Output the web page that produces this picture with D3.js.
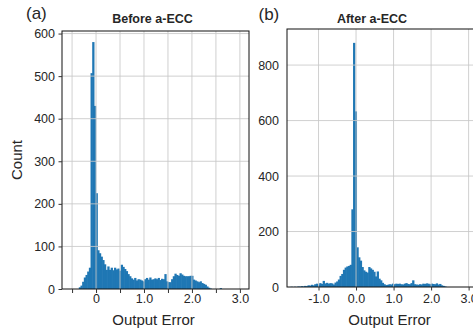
<!DOCTYPE html>
<html>
<head>
<meta charset="utf-8">
<script src="https://cdn.jsdelivr.net/npm/d3@7"></script>
<style>
  html, body { margin: 0; padding: 0; background: #fff; }
  svg { display: block; font-family: "Liberation Sans", Arial, sans-serif; }
</style>
</head>
<body>
<svg id="chart" width="473" height="332"></svg>
<script>
// Histogram of output error before a-ECC: bins of equal width starting at beforeStart
const beforeStart = -0.36;
const beforeWidth = 0.035;
const beforeCounts = [
  4, 8, 17, 27, 33, 41, 50, 507, 580, 430,
  225, 91, 84, 76, 68, 58, 45, 53, 45, 50,
  44, 50, 46, 48, 43, 57, 52, 47, 42, 35,
  30, 25, 22, 26, 20, 23, 22, 20, 18, 23,
  26, 22, 27, 22, 23, 25, 23, 26, 21, 24,
  23, 35, 18, 16, 16, 23, 30, 36, 33, 31,
  37, 34, 31, 30, 30, 30, 31, 31, 22, 20,
  18, 16, 18, 14, 12, 10, 6, 3, 1, 0,
  0, 0, 0, 0, 2
];

// Histogram of output error after a-ECC
const afterStart = -1.745;
const afterWidth = 0.045;
const afterCounts = [
  1, 0, 1, 0, 2, 1, 3, 2, 4, 3,
  6, 5, 8, 6, 10, 12, 9, 14, 11, 22,
  13, 15, 12, 14, 13, 9, 16, 20, 27, 40,
  47, 62, 70, 74, 76, 80, 280, 880, 633, 143,
  107, 95, 72, 60, 55, 52, 72, 67, 62, 55,
  38, 56, 30, 24, 15, 10, 7, 8, 10, 9,
  12, 10, 12, 11, 12, 10, 9, 12, 14, 11,
  10, 14, 24, 10, 9, 8, 10, 9, 12, 11,
  13, 12, 10, 12, 11, 10, 13, 9, 11, 6,
  4, 2
];

// Axis settings
const beforeXDomain = [-0.71, 3.19];
const beforeYDomain = [0, 606];
const beforeXTicks = [-0.5, 0, 0.5, 1, 1.5, 2, 2.5, 3];
const beforeXLabels = ["", "0", "", "1.0", "", "2.0", "", "3.0"];
const beforeYTicks = [0, 100, 200, 300, 400, 500, 600];

const afterXDomain = [-1.84, 3.17];
const afterYDomain = [0, 930];
const afterXTicks = [-1, 0, 1, 2, 3];
const afterXLabels = ["-1.0", "0.0", "1.0", "2.0", "3.0"];
const afterYTicks = [0, 200, 400, 600, 800];

const BAR = "#1f77b4";
const GRID = "#c8c8c8";
const INK = "#262626";

const svg = d3.select("#chart");

function panel(cfg) {
  const x = d3.scaleLinear().domain(cfg.xDomain).range([cfg.left, cfg.right]);
  const y = d3.scaleLinear().domain(cfg.yDomain).range([cfg.bottom, cfg.top]);
  const g = svg.append("g");

  // clip region for the plot
  const clipId = "clip-" + cfg.id;
  svg.append("clipPath").attr("id", clipId)
    .append("rect")
    .attr("x", cfg.left).attr("y", cfg.top)
    .attr("width", cfg.right - cfg.left).attr("height", cfg.bottom - cfg.top);

  // histogram bars (slightly widened so neighbouring bins join without seams)
  const bins = cfg.counts.map((c, i) => ({
    x0: cfg.start + i * cfg.width,
    x1: cfg.start + (i + 1) * cfg.width,
    count: c
  })).filter(b => b.count > 0);
  g.append("g").attr("clip-path", `url(#${clipId})`)
    .selectAll("rect").data(bins).join("rect")
    .attr("x", d => x(d.x0))
    .attr("width", d => x(d.x1) - x(d.x0) + 0.6)
    .attr("y", d => y(d.count))
    .attr("height", d => y(0) - y(d.count))
    .attr("fill", BAR);

  // grid lines, drawn over the bars
  const grid = g.append("g").attr("clip-path", `url(#${clipId})`);
  grid.selectAll("line.gx").data(cfg.gridX).join("line")
    .attr("x1", d => x(d)).attr("x2", d => x(d))
    .attr("y1", cfg.top).attr("y2", cfg.bottom)
    .attr("stroke", GRID).attr("stroke-width", 1).attr("stroke-opacity", 0.85);
  grid.selectAll("line.gy").data(cfg.yTicks.filter(d => d > 0)).join("line")
    .attr("x1", cfg.left).attr("x2", cfg.right)
    .attr("y1", d => y(d)).attr("y2", d => y(d))
    .attr("stroke", GRID).attr("stroke-width", 1).attr("stroke-opacity", 0.85);

  // frame
  g.append("rect")
    .attr("x", cfg.left).attr("y", cfg.top)
    .attr("width", cfg.right - cfg.left).attr("height", cfg.bottom - cfg.top)
    .attr("fill", "none").attr("stroke", "#111").attr("stroke-width", 1);

  // x axis
  const xAxis = d3.axisBottom(x).tickValues(cfg.xTicks)
    .tickFormat((d, i) => cfg.xLabels[i]).tickSize(cfg.xTickSize).tickPadding(0);
  const gx = g.append("g").attr("transform", `translate(0,${cfg.bottom})`).call(xAxis);
  gx.select(".domain").remove();
  gx.selectAll(".tick line").attr("stroke", "#333");
  gx.selectAll(".tick text")
    .attr("y", cfg.xLabelBaseline - cfg.bottom).attr("dy", null)
    .attr("fill", INK).style("font-size", "12.5px");

  // y axis
  const yAxis = d3.axisLeft(y).tickValues(cfg.yTicks)
    .tickFormat(d3.format("d")).tickSize(cfg.yTickSize).tickPadding(cfg.yPad);
  const gy = g.append("g").attr("transform", `translate(${cfg.left},0)`).call(yAxis);
  gy.select(".domain").remove();
  gy.selectAll(".tick line").attr("stroke", "#333");
  gy.selectAll(".tick text").attr("fill", INK).style("font-size", "12.5px");

  // title, panel tag, x label
  svg.append("text").attr("x", cfg.titleX).attr("y", cfg.titleY)
    .attr("text-anchor", "middle").attr("font-weight", "bold")
    .style("font-size", "12.5px").attr("fill", INK).text(cfg.title);
  svg.append("text").attr("x", cfg.tagX).attr("y", cfg.tagY)
    .style("font-size", "17px").attr("fill", INK).text(cfg.tag);
  svg.append("text").attr("x", cfg.xLabelX).attr("y", 325)
    .attr("text-anchor", "middle").style("font-size", "15px")
    .attr("fill", INK).text("Output Error");
}

panel({
  id: "a", left: 62, right: 249, top: 31, bottom: 289,
  xDomain: beforeXDomain, yDomain: beforeYDomain,
  start: beforeStart, width: beforeWidth, counts: beforeCounts,
  xTicks: beforeXTicks, xLabels: beforeXLabels, gridX: beforeXTicks,
  yTicks: beforeYTicks, xTickSize: 4, yTickSize: 3.5, yPad: 3.5,
  xLabelBaseline: 303,
  title: "Before a-ECC", titleX: 152.5, titleY: 23,
  tag: "(a)", tagX: 26, tagY: 18.5, xLabelX: 153.5
});

panel({
  id: "b", left: 287, right: 475, top: 29, bottom: 287,
  xDomain: afterXDomain, yDomain: afterYDomain,
  start: afterStart, width: afterWidth, counts: afterCounts,
  xTicks: afterXTicks, xLabels: afterXLabels, gridX: afterXTicks,
  yTicks: afterYTicks, xTickSize: 3.5, yTickSize: 0, yPad: 8,
  xLabelBaseline: 303,
  title: "After a-ECC", titleX: 372, titleY: 22.5,
  tag: "(b)", tagX: 258.5, tagY: 19.5, xLabelX: 389.5
});

// shared y label
svg.append("text")
  .attr("transform", "translate(22,160) rotate(-90)")
  .attr("text-anchor", "middle").style("font-size", "15px")
  .attr("fill", INK).text("Count");
</script>
</body>
</html>
